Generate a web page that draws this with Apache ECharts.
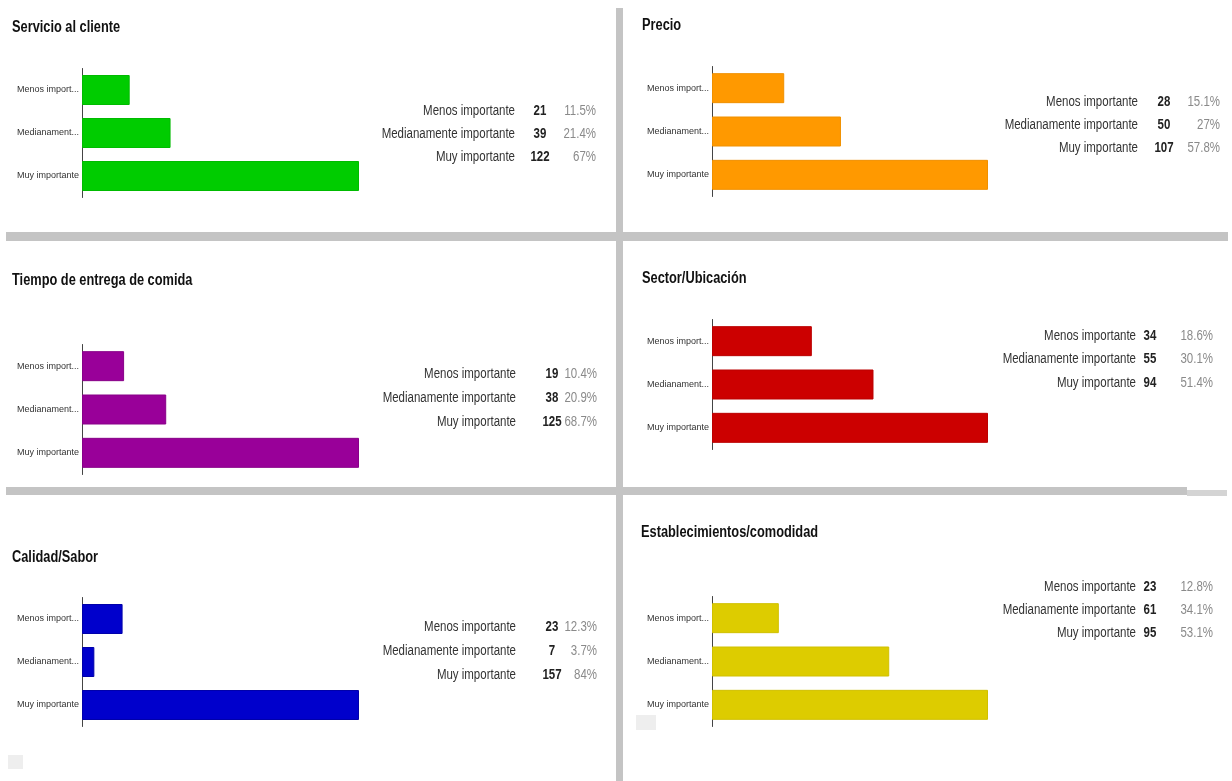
<!DOCTYPE html>
<html>
<head>
<meta charset="utf-8">
<script src="https://cdn.jsdelivr.net/npm/echarts@6/dist/echarts.min.js"></script>
<style>
html,body{margin:0;padding:0;background:#fff;}
#chart{width:1232px;height:781px;}
</style>
</head>
<body>
<div id="chart"></div>
<script>
// ---- data ----
const categories = ['Menos importante', 'Medianamente importante', 'Muy importante'];
const tickLabels = ['Menos import...', 'Medianament...', 'Muy importante'];
const titles = ['Servicio al cliente', 'Precio', 'Tiempo de entrega de comida', 'Sector/Ubicación', 'Calidad/Sabor', 'Establecimientos/comodidad'];
const servicioValues = [21, 39, 122];
const servicioPct = ['11.5%', '21.4%', '67%'];
const precioValues = [28, 50, 107];
const precioPct = ['15.1%', '27%', '57.8%'];
const tiempoValues = [19, 38, 125];
const tiempoPct = ['10.4%', '20.9%', '68.7%'];
const sectorValues = [34, 55, 94];
const sectorPct = ['18.6%', '30.1%', '51.4%'];
const calidadValues = [23, 7, 157];
const calidadPct = ['12.3%', '3.7%', '84%'];
const establecValues = [23, 61, 95];
const establecPct = ['12.8%', '34.1%', '53.1%'];

const allValues = [servicioValues, precioValues, tiempoValues, sectorValues, calidadValues, establecValues];
const allPct = [servicioPct, precioPct, tiempoPct, sectorPct, calidadPct, establecPct];

// ---- layout / style ----
const FONT = '"Liberation Sans", Arial, sans-serif';
const NARROW = 0.82;
const colors = ['#00cc00', '#ff9900', '#990099', '#cc0000', '#0000cc', '#ddcc00'];
const borders = ['#00bb00', '#f09000', '#880088', '#bb0000', '#0000aa', '#d0c000'];
const grids = [
  {left: 82, top: 68.5, width: 277, height: 129},
  {left: 712, top: 66.5, width: 276, height: 130},
  {left: 82, top: 344.5, width: 277, height: 130},
  {left: 712, top: 319.5, width: 276, height: 130},
  {left: 82, top: 597.5, width: 277, height: 129},
  {left: 712, top: 596.5, width: 276, height: 130}
];
const titlePos = [[12, 28], [642, 26], [12, 281], [642, 279], [12, 558], [641, 533]];
// table: [labelRight, valueCenter, pctRight, firstRowY, rowStep]
const tablePos = [
  [515, 540, 596, 111, 23],
  [1138, 1164, 1220, 102, 23],
  [516, 552, 597, 374, 24],
  [1136, 1150, 1213, 336, 23.5],
  [516, 552, 597, 627, 24],
  [1136, 1150, 1213, 587, 23]
];

function narrowText(x, y, text, font, fill, align) {
  return {
    type: 'text', x: x, y: y, scaleX: NARROW, z: 10,
    style: {x: 0, y: 0, text: text, font: font, fill: fill, align: align, verticalAlign: 'middle'}
  };
}

const xAxes = [], yAxes = [], series = [], graphic = [];
grids.forEach((g, i) => {
  xAxes.push({type: 'value', gridIndex: i, min: 0, max: 'dataMax', show: false});
  yAxes.push({
    type: 'category', gridIndex: i, data: categories, inverse: true,
    axisLine: {show: true, lineStyle: {color: '#444', width: 1}},
    axisTick: {show: false},
    axisLabel: {
      fontFamily: FONT, fontSize: 9, color: '#333', margin: 3,
      formatter: (v, idx) => tickLabels[idx]
    }
  });
  series.push({
    type: 'bar', xAxisIndex: i, yAxisIndex: i,
    data: allValues[i], barWidth: 30,
    itemStyle: {color: colors[i], borderColor: borders[i], borderWidth: 1},
    silent: true, animation: false
  });
  graphic.push({
    type: 'text', x: titlePos[i][0], y: titlePos[i][1], scaleX: 0.8, z: 10,
    style: {x: 0, y: 0, text: titles[i], font: 'bold 16px ' + FONT, fill: '#111', align: 'left', verticalAlign: 'middle'}
  });
  const t = tablePos[i];
  categories.forEach((c, r) => {
    const y = t[3] + r * t[4];
    graphic.push(narrowText(t[0], y, c, '14px ' + FONT, '#333', 'right'));
    graphic.push(narrowText(t[1], y, String(allValues[i][r]), 'bold 14px ' + FONT, '#222', 'center'));
    graphic.push(narrowText(t[2], y, allPct[i][r], '14px ' + FONT, '#8a8a8a', 'right'));
  });
});

// separators
const SEP = '#c4c4c4';
graphic.push({type: 'rect', shape: {x: 616, y: 8, width: 7, height: 773}, style: {fill: SEP}, z: 0});
graphic.push({type: 'rect', shape: {x: 6, y: 232, width: 1222, height: 9}, style: {fill: SEP}, z: 0});
graphic.push({type: 'rect', shape: {x: 6, y: 487, width: 1181, height: 8}, style: {fill: SEP}, z: 0});
graphic.push({type: 'rect', shape: {x: 1187, y: 490, width: 40, height: 6}, style: {fill: '#d4d4d4'}, z: 0});
graphic.push({type: 'rect', shape: {x: 8, y: 755, width: 15, height: 14}, style: {fill: '#eeeeee'}, z: 0});
graphic.push({type: 'rect', shape: {x: 636, y: 715, width: 20, height: 15}, style: {fill: '#eeeeee'}, z: 0});

const chart = echarts.init(document.getElementById('chart'), null, {renderer: 'canvas'});
chart.setOption({
  backgroundColor: '#ffffff',
  animation: false,
  grid: grids,
  xAxis: xAxes,
  yAxis: yAxes,
  series: series,
  graphic: graphic
});
</script>
</body>
</html>
